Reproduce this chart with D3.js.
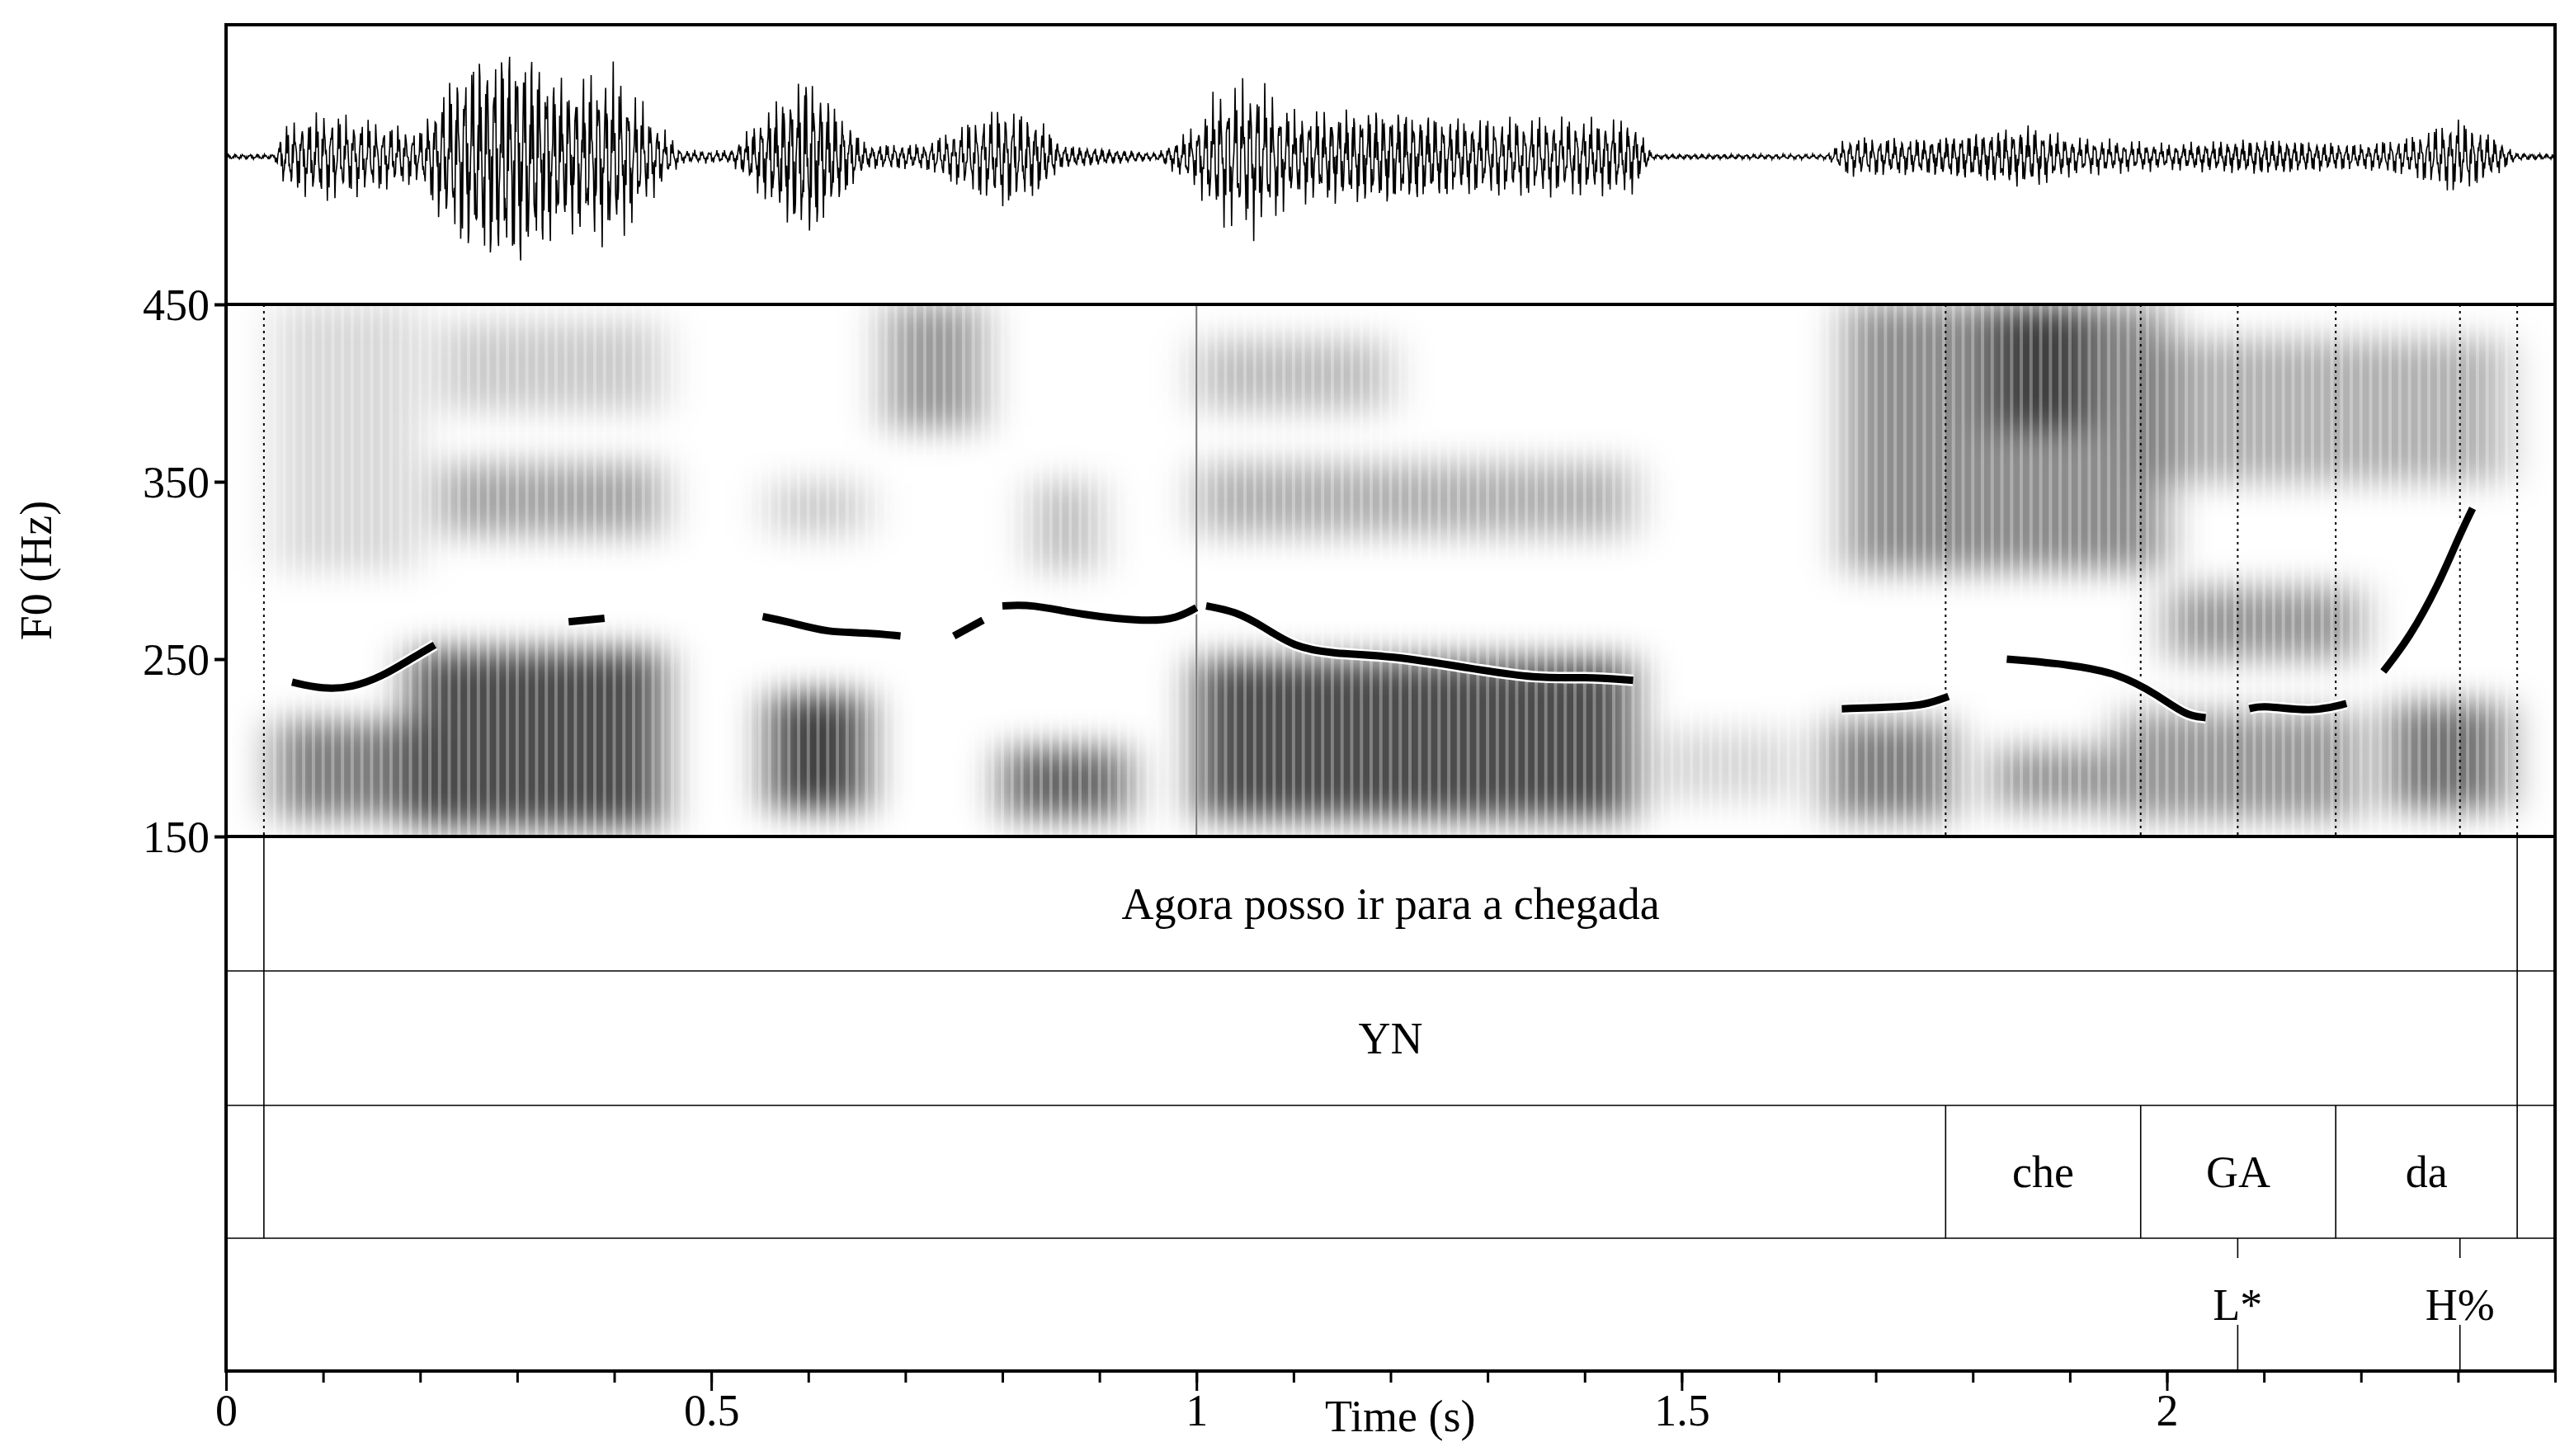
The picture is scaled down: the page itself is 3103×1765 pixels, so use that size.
<!DOCTYPE html>
<html><head><meta charset="utf-8">
<script src="https://cdn.jsdelivr.net/npm/d3@7"></script>
<style>body{margin:0;background:#fff}text{font-family:"Liberation Serif","Times New Roman",serif}</style>
</head><body><svg id="chart"></svg>
<script>
// pitch contour segments [time s, F0 Hz]
const f0Segments = [
  [[0.068,237],[0.1,233],[0.13,234],[0.16,240],[0.19,250],[0.215,258]],
  [[0.353,271],[0.39,273]],
  [[0.553,274],[0.58,271],[0.62,265],[0.66,265],[0.695,263]],
  [[0.75,263],[0.78,272]],
  [[0.8,280],[0.83,281],[0.88,275],[0.95,271],[0.98,273],[1.0,279]],
  [[1.01,280],[1.04,277],[1.07,268],[1.1,257],[1.14,253],[1.2,252],[1.28,245],[1.35,239],[1.4,240],[1.45,238]],
  [[1.665,222],[1.72,223],[1.75,224],[1.775,229]],
  [[1.835,250],[1.9,247],[1.95,242],[1.99,230],[2.02,218],[2.04,217]],
  [[2.085,222],[2.1,224],[2.15,220],[2.185,225]],
  [[2.223,243],[2.25,262],[2.28,292],[2.3,318],[2.315,335]]
];
// waveform amplitude envelope [time, relative amplitude]
const waveEnvelope = [[0,0.02],[0.05,0.02],[0.06,0.25],[0.1,0.35],[0.2,0.2],[0.22,0.5],[0.25,0.8],[0.3,0.95],[0.35,0.6],[0.4,0.7],[0.44,0.3],[0.47,0.05],[0.52,0.05],[0.56,0.4],[0.6,0.7],[0.64,0.3],[0.66,0.1],[0.72,0.1],[0.8,0.4],[0.84,0.3],[0.86,0.1],[0.96,0.03],[1.0,0.25],[1.02,0.5],[1.06,0.6],[1.1,0.35],[1.2,0.4],[1.28,0.3],[1.45,0.3],[1.47,0.02],[1.65,0.02],[1.67,0.15],[1.75,0.15],[1.8,0.2],[1.86,0.25],[1.9,0.15],[2.0,0.1],[2.1,0.15],[2.2,0.1],[2.25,0.15],[2.3,0.3],[2.34,0.15],[2.36,0.03],[2.4,0.02]];
// spectrogram energy blobs [t0, t1, lowHz, highHz, darkness] on the display axis
const specBlobs = [
  [0.05,0.2,160,215,0.5],[0.19,0.45,155,255,0.7],[0.56,0.66,165,230,0.75],[0.8,0.93,160,200,0.6],
  [1.0,1.45,160,250,0.7],[1.65,1.78,160,215,0.5],[1.82,1.95,165,200,0.4],[1.95,2.2,160,220,0.4],
  [2.23,2.35,165,225,0.55],[1.47,1.62,170,210,0.15],
  [0.05,0.2,300,450,0.15],[0.22,0.45,320,360,0.35],[0.22,0.45,390,440,0.2],[0.56,0.66,320,350,0.2],
  [0.68,0.78,380,450,0.4],[1.0,1.45,320,360,0.3],[1.0,1.2,390,430,0.25],[1.67,2.0,300,450,0.45],
  [1.82,1.92,380,450,0.55],[2.0,2.2,250,290,0.4],[1.98,2.35,350,430,0.3],[0.83,0.9,300,350,0.25]
];
const tierText1 = [[0.039,2.361,"Agora posso ir para a chegada"]];
const tierText2 = [[0.039,2.361,"YN"]];
const tierBounds3 = [0.039,1.772,1.973,2.174,2.361];
const tierLabels3 = [[1.772,1.973,"che"],[1.973,2.174,"GA"],[2.174,2.361,"da"]];
const tonePoints = [[2.073,"L*"],[2.302,"H%"]];
const dottedTimes = [0.039,1.772,1.973,2.073,2.174,2.302,2.361];
const f0Ticks = [150,250,350,450];
const timeTicks = [0,0.5,1,1.5,2];

const W = 3103, H = 1765;
const svg = d3.select('#chart').attr('width', W).attr('height', H);
const x = d3.scaleLinear().domain([0, 2.4]).range([274, 3097]);
const waveTop = 30, specTop = 369, specBot = 1014;
const tierY = [1014, 1177, 1340, 1501, 1662];
const y = d3.scaleLinear().domain([150, 450]).range([specBot, specTop]);

// spectrogram
const defs = svg.append('defs');
defs.append('filter').attr('id', 'blur').attr('x', '-20%').attr('y', '-20%').attr('width', '140%').attr('height', '140%')
  .append('feGaussianBlur').attr('stdDeviation', '26 20');
defs.append('clipPath').attr('id', 'specClip').append('rect')
  .attr('x', x(0)).attr('y', specTop).attr('width', x(2.4) - x(0)).attr('height', specBot - specTop);
const spec = svg.append('g').attr('clip-path', 'url(#specClip)').append('g').attr('filter', 'url(#blur)');
spec.selectAll('rect').data(specBlobs).join('rect')
  .attr('x', d => x(d[0])).attr('width', d => x(d[1]) - x(d[0]))
  .attr('y', d => y(d[3])).attr('height', d => y(d[2]) - y(d[3]))
  .attr('fill', '#000').attr('opacity', d => d[4]);
// fine vertical striations over the blobs
svg.append('g').attr('clip-path', 'url(#specClip)').selectAll('line').data(d3.range(0.05, 2.36, 0.01)).join('line')
  .attr('x1', d => x(d)).attr('x2', d => x(d)).attr('y1', specTop).attr('y2', specBot)
  .attr('stroke', '#fff').attr('stroke-width', 4).attr('opacity', 0.3);
svg.append('line').attr('x1', x(1.0)).attr('x2', x(1.0)).attr('y1', specTop).attr('y2', specBot)
  .attr('stroke', '#777').attr('stroke-width', 2);

// waveform
const waveMid = 190, waveHalf = 150;
const amp = d3.scaleLinear().domain(waveEnvelope.map(d => d[0])).range(waveEnvelope.map(d => d[1]));
const samples = d3.range(0, 2.4, 0.0006).map(t => {
  const s = Math.sin(t * 2 * Math.PI * 131) * 0.6 + Math.sin(t * 2 * Math.PI * 487) * 0.3 + Math.sin(t * 2 * Math.PI * 1013) * 0.25;
  return [t, waveMid - amp(t) * waveHalf * s];
});
svg.append('path').attr('d', d3.line().x(d => x(d[0])).y(d => d[1])(samples))
  .attr('fill', 'none').attr('stroke', '#000').attr('stroke-width', 1.6);

// dotted boundaries in spectrogram
svg.selectAll('line.dot').data(dottedTimes).join('line')
  .attr('x1', d => x(d)).attr('x2', d => x(d)).attr('y1', specTop).attr('y2', specBot)
  .attr('stroke', '#000').attr('stroke-width', 2).attr('stroke-dasharray', '3,5');

// F0 contour: white halo then black
const line = d3.line().x(d => x(d[0])).y(d => y(d[1])).curve(d3.curveBasis);
svg.selectAll('path.halo').data(f0Segments).join('path').attr('d', line)
  .attr('fill', 'none').attr('stroke', '#fff').attr('stroke-width', 14);
svg.selectAll('path.f0').data(f0Segments).join('path').attr('d', line)
  .attr('fill', 'none').attr('stroke', '#000').attr('stroke-width', 9);

// frames
svg.append('rect').attr('x', x(0)).attr('y', waveTop).attr('width', x(2.4) - x(0)).attr('height', tierY[4] - waveTop)
  .attr('fill', 'none').attr('stroke', '#000').attr('stroke-width', 4);
[specTop, specBot].forEach(v => svg.append('line').attr('x1', x(0)).attr('x2', x(2.4)).attr('y1', v).attr('y2', v).attr('stroke', '#000').attr('stroke-width', 4));
tierY.slice(1, 4).forEach(v => svg.append('line').attr('x1', x(0)).attr('x2', x(2.4)).attr('y1', v).attr('y2', v).attr('stroke', '#000').attr('stroke-width', 1.6));

// tiers
const fs = 54;
function bounds(times, y0, y1) {
  svg.selectAll(null).data(times).join('line').attr('x1', d => x(d)).attr('x2', d => x(d))
    .attr('y1', y0).attr('y2', y1).attr('stroke', '#000').attr('stroke-width', 1.6);
}
function labels(arr, y0, y1) {
  svg.selectAll(null).data(arr).join('text').attr('x', d => x((d[0] + d[1]) / 2)).attr('y', (y0 + y1) / 2 + 18)
    .attr('text-anchor', 'middle').attr('font-size', fs).text(d => d[2]);
}
bounds([0.039, 2.361], tierY[0], tierY[1]); labels(tierText1, tierY[0], tierY[1]);
bounds([0.039, 2.361], tierY[1], tierY[2]); labels(tierText2, tierY[1], tierY[2]);
bounds(tierBounds3, tierY[2], tierY[3]); labels(tierLabels3, tierY[2], tierY[3]);
svg.selectAll(null).data(tonePoints).join('line').attr('x1', d => x(d[0])).attr('x2', d => x(d[0]))
  .attr('y1', tierY[4] - 56).attr('y2', tierY[4]).attr('stroke', '#000').attr('stroke-width', 1.6);
svg.selectAll(null).data(tonePoints).join('line').attr('x1', d => x(d[0])).attr('x2', d => x(d[0]))
  .attr('y1', tierY[3]).attr('y2', tierY[3] + 24).attr('stroke', '#000').attr('stroke-width', 1.6);
svg.selectAll(null).data(tonePoints).join('text').attr('x', d => x(d[0])).attr('y', (tierY[3] + tierY[4]) / 2 + 18)
  .attr('text-anchor', 'middle').attr('font-size', fs).text(d => d[1]);

// axes
const yAxis = svg.append('g').attr('transform', `translate(${x(0)},0)`)
  .call(d3.axisLeft(y).tickValues(f0Ticks).tickSize(14).tickFormat(d3.format('d')));
yAxis.select('.domain').remove();
yAxis.selectAll('line').attr('stroke-width', 4);
yAxis.selectAll('text').attr('font-size', fs).attr('font-family', '"Liberation Serif",serif').attr('dy', '0.34em').attr('x', -20);
svg.append('text').attr('transform', `translate(62,${(specTop + specBot) / 2}) rotate(-90)`)
  .attr('text-anchor', 'middle').attr('font-size', fs).text('F0 (Hz)');

const xMinor = svg.append('g').attr('transform', `translate(0,${tierY[4]})`)
  .call(d3.axisBottom(x).tickValues(d3.range(0, 2.41, 0.1)).tickSize(14).tickFormat(''));
xMinor.select('.domain').remove();
xMinor.selectAll('line').attr('stroke-width', 3);
const xAxis = svg.append('g').attr('transform', `translate(0,${tierY[4]})`)
  .call(d3.axisBottom(x).tickValues(timeTicks).tickSize(24).tickFormat(d3.format('')));
xAxis.select('.domain').remove();
xAxis.selectAll('line').attr('stroke-width', 3);
xAxis.selectAll('text').attr('font-size', fs).attr('font-family', '"Liberation Serif",serif').attr('y', 28);
svg.append('text').attr('x', x(1.21)).attr('y', 1735).attr('text-anchor', 'middle').attr('font-size', fs).text('Time (s)');
</script></body></html>
